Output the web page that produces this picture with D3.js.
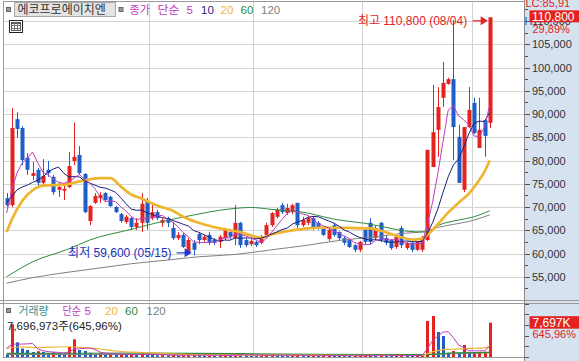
<!DOCTYPE html>
<html><head><meta charset="utf-8">
<script src="https://cdnjs.cloudflare.com/ajax/libs/d3/7.8.5/d3.min.js"></script>
<style>body{margin:0;background:#fff;overflow:hidden}svg{display:block}</style>
</head><body>
<svg id="c" width="579" height="361"></svg>
<script>
// ---------------- DATA ----------------
const stockName = "에코프로에이치엔";
const opens = [71900,70400,88900,87000,80600,76700,78000,75200,78000,76500,
73700,73500,74300,79900,81200,77100,67000,70900,71900,73000,
72200,70000,68500,66800,67600,65700,66600,71300,67600,68900,
66600,67600,65500,63300,64000,60300,62300,64200,62900,64000,
62900,62500,63300,64600,63300,66600,62900,62000,62500,62300,
64000,66100,67900,70400,68700,68900,70900,66100,66600,67600,
66600,65300,63100,66100,64600,63300,62900,61800,60800,65100,
66600,63300,66600,63300,62900,61400,65500,61200,62300,60800,
60800,62900,78600,86600,93500,96500,97500,85100,73700,87200,
92400,82700,88700,88100];
const highs = [73000,91300,90400,87400,81600,79700,78400,80300,79900,76900,
75400,74700,81800,88100,83100,77300,70400,73000,73200,73200,
72400,70200,68700,68300,67900,67600,73000,71900,70900,69400,
67600,67900,66800,64600,64400,63300,62900,64600,64000,64600,
63300,64000,65500,65300,70400,66800,63300,63100,62700,64000,
66600,68900,69800,70900,70700,70700,70900,67900,68300,68100,
67000,65700,65500,66600,64800,63800,63100,62000,62700,65500,
67600,65900,66800,63800,63100,64000,65900,62500,62500,62700,
63800,82300,96300,95800,101200,97800,110200,87700,87200,95800,
93500,93500,88900,110800];
const lows = [70000,70000,84900,79000,76900,75800,74300,74300,76500,72600,
72200,71500,74100,79000,76900,68700,66100,70700,70900,71300,
70000,68700,66600,66400,65100,65100,64600,65100,67200,67200,
65700,65700,62900,62900,61200,60100,59600,62000,62500,61800,
61800,61200,62900,63100,61800,61200,61400,61600,61400,62000,
63600,65700,67600,68500,68300,68500,65500,65700,66100,65100,
65100,63800,62700,63600,62900,61800,61200,60300,60300,62000,
62000,62900,62500,61800,60800,61000,61200,60800,60300,60500,
60300,62700,78600,80800,91500,96300,80100,75200,73200,87000,
85700,82700,80800,87000];
const closes = [70400,87000,86800,80100,78000,77300,75200,76700,77300,73200,
74300,73900,78800,80800,77300,68900,70200,72400,72600,71500,
70200,68900,67000,67900,65700,66600,70700,66600,68900,67600,
67200,66600,63300,64000,61400,62900,60800,62900,63600,62300,
62300,63600,65100,63600,66600,61800,61800,62700,61800,63600,
66100,68700,69400,68900,69800,70400,66100,67200,67600,65500,
65500,64000,65100,64000,63300,62300,61400,60800,62500,62500,
62500,65500,62900,62300,61200,63600,61800,62300,60800,62500,
63300,82300,86100,91500,96700,97500,87200,75200,87200,90900,
85900,86600,85300,110800];
const volumes = [600000,7340000,3300000,1900000,1570000,1100000,1300000,1150000,900000,1050000,
800000,650000,2240000,3970000,1570000,1350000,950000,700000,850000,650000,
700000,550000,600000,450000,550000,450000,900000,650000,450000,380000,
420000,350000,450000,350000,400000,450000,500000,400000,350000,380000,
300000,320000,400000,330000,700000,550000,400000,350000,300000,350000,
420000,480000,430000,380000,330000,360000,500000,380000,330000,350000,
300000,320000,350000,300000,280000,300000,270000,290000,320000,380000,
450000,380000,400000,330000,300000,340000,400000,330000,300000,320000,
350000,8080000,9200000,5600000,4700000,900000,1350000,900000,2700000,1000000,
1080000,1130000,1191600,7696973];
// first days of the moving averages (window starts before the visible range)
const ma5Head  = [68700,73700,77300,79500];
const ma10Head = [71000,72200,73700,74300,74700,75300,75800,76500,77500];
const volMa5Head = [1950000,2850000,2900000,2900000];
// longer moving averages: [day index, value]
const ma20Pts = [[0,64600],[1,67300],[3,71300],[5,73600],[7,74600],[11,74800],[14,75500],[18,76200],[20,76200],[22,74400],[24,72700],[26,71800],[29,70300],[32,69200],[34,67900],[37,66600],[41,65400],[45,64600],[49,63400],[51,64100],[54,64800],[58,65400],[61,65600],[66,65500],[70,65400],[72,64900],[74,64200],[76,63500],[78,63000],[80,63200],[81,64000],[83,66300],[85,68800],[87,70900],[89,72900],[91,75800],[92,77600],[93,80000]];
const ma60Pts = [[0,55000],[5,58200],[12,61000],[16,62900],[24,65200],[30,66900],[37,68500],[41,69300],[45,69800],[47,69900],[51,69500],[58,68700],[61,67900],[64,67200],[69,66500],[74,65400],[77,64800],[81,64600],[83,66000],[87,67200],[90,67900],[93,69200]];
const ma120Pts = [[0,53600],[5,54800],[12,56000],[18,56900],[24,57800],[31,58600],[37,59300],[44,59800],[51,60800],[58,61800],[64,62800],[71,63600],[76,64300],[80,64700],[83,65600],[90,67200],[93,68300]];
const volMa20Pts = [[0,1950000],[3,2300000],[5,2100000],[12,2300000],[15,2100000],[18,1800000],[21,1350000],[26,1000000],[32,700000],[40,460000],[50,420000],[60,410000],[70,370000],[80,340000],[81,725000],[82,1170000],[83,1430000],[84,1650000],[86,1735000],[88,1885000],[90,1960000],[92,2040000],[93,2400000]];
const volMa60Pts = [[0,800000],[25,850000],[45,750000],[60,600000],[81,520000],[82,650000],[85,850000],[93,1040000]];
const volMa120Pts = [[0,560000],[40,560000],[81,560000],[85,700000],[93,950000]];
const monthStartIdx = [28,48,69,90];
const priceTicks = [55000,60000,65000,70000,75000,80000,85000,90000,95000,100000,105000,110000];
const volTicks = [0,2400000,4800000,7200000,9600000,12000000];
const highText = "최고 110,800 (08/04)";
const lowText = "최저 59,600 (05/15)";
const lastChangeText = "29,89%";
const volText = "7,696,973주(645,96%)";
const volBoxText = "7,697K";
const volRatioText = "645,96%";
const prevText = "LC:85,91";

// ---------------- LAYOUT ----------------
const W=579,H=361, L=4, R=524.5, PT=2, PB=300, VT=303.5, VB=357;
const RED="#e2231f", BLUE="#1f5ec8", MAG="#c03cc0", NAVY="#1b1f7a", GOLD="#efb430", GREEN="#2e8b3c", GRAY="#808080";
const NUM='"Liberation Sans", Arial, sans-serif', KR='"Noto Sans CJK KR", sans-serif';
const n = closes.length;
const svg = d3.select("#c");
const x = d3.scaleLinear().domain([0,n-1]).range([6.6,489.7]);
const y = d3.scaleLinear().domain([50000,114100]).range([PB,PT]);
const yv = d3.scaleLinear().domain([0,12000000]).range([VB,VT]);
const px = v=>Math.round(v)+0.5;

svg.append("rect").attr("width",W).attr("height",H).attr("fill","#fff");
svg.append("rect").attr("x",525).attr("y",0).attr("width",W-525).attr("height",H).attr("fill","#d6e2f0");

// grid
svg.append("g").selectAll("line").data(priceTicks).join("line")
  .attr("x1",L).attr("x2",R).attr("y1",d=>px(y(d))).attr("y2",d=>px(y(d)))
  .attr("stroke","#d3d3d3");
svg.append("g").selectAll("line").data(monthStartIdx).join("line")
  .attr("x1",d=>px((x(d-1)+x(d))/2)).attr("x2",d=>px((x(d-1)+x(d))/2))
  .attr("y1",PT).attr("y2",VB).attr("stroke","#d3d3d3");

// frame
const fr = svg.append("g").attr("stroke","#9a9a9a").attr("fill","none");
fr.append("line").attr("x1",3.5).attr("x2",3.5).attr("y1",1).attr("y2",358);
fr.append("line").attr("x1",3.5).attr("x2",R).attr("y1",1.5).attr("y2",1.5);
fr.append("line").attr("x1",0).attr("x2",W).attr("y1",300.5).attr("y2",300.5);
fr.append("line").attr("x1",0).attr("x2",W).attr("y1",303.5).attr("y2",303.5);
fr.append("line").attr("x1",3.5).attr("x2",R).attr("y1",357.5).attr("y2",357.5);
fr.append("line").attr("x1",R).attr("x2",R).attr("y1",0).attr("y2",H).attr("stroke","#8a8a8a");

// clip
const defs = svg.append("defs");
defs.append("clipPath").attr("id","pc").append("rect").attr("x",L).attr("y",PT).attr("width",R-L).attr("height",PB-PT);
defs.append("clipPath").attr("id","vc").append("rect").attr("x",L).attr("y",VT).attr("width",R-L).attr("height",VB-VT);

// candles
const idx = d3.range(n);
const cg = svg.append("g").attr("clip-path","url(#pc)");
const col = i => closes[i]>=opens[i]?RED:BLUE;
cg.selectAll("line").data(idx).join("line")
  .attr("x1",i=>px(x(i))).attr("x2",i=>px(x(i)))
  .attr("y1",i=>y(highs[i])).attr("y2",i=>y(lows[i]))
  .attr("stroke",col);
cg.selectAll("rect").data(idx).join("rect")
  .attr("x",i=>Math.round(x(i))-1.5).attr("width",4)
  .attr("y",i=>y(Math.max(opens[i],closes[i])))
  .attr("height",i=>Math.max(1,Math.abs(y(opens[i])-y(closes[i]))))
  .attr("fill",col);

// moving averages
const mean = a=>d3.mean(a);
const ma5 = idx.map(i=> i>=4 ? mean(closes.slice(i-4,i+1)) : ma5Head[i]);
const ma10 = idx.map(i=> i>=9 ? mean(closes.slice(i-9,i+1)) : ma10Head[i]);
const lineP = d3.line().x(d=>x(d[0])).y(d=>y(d[1]));
const lineS = d3.line().x(d=>x(d[0])).y(d=>y(d[1])).curve(d3.curveMonotoneX);
const mg = svg.append("g").attr("clip-path","url(#pc)").attr("fill","none");
mg.append("path").attr("d",lineS(ma120Pts)).attr("stroke",GRAY).attr("stroke-width",1);
mg.append("path").attr("d",lineS(ma60Pts)).attr("stroke",GREEN).attr("stroke-width",1);
mg.append("path").attr("d",lineS(ma20Pts)).attr("stroke",GOLD).attr("stroke-width",2.7);
mg.append("path").attr("d",lineP(ma10.map((v,i)=>[i,v]))).attr("stroke",NAVY).attr("stroke-width",1);
mg.append("path").attr("d",lineP(ma5.map((v,i)=>[i,v]))).attr("stroke",MAG).attr("stroke-width",1);

// volume bars
const vg = svg.append("g").attr("clip-path","url(#vc)");
const vcol = i => (i>0 && volumes[i]>volumes[i-1]) ? RED : BLUE;
vg.selectAll("rect").data(idx).join("rect")
  .attr("x",i=>Math.round(x(i))-1).attr("width",3)
  .attr("y",i=>yv(volumes[i])).attr("height",i=>Math.max(1,VB-yv(volumes[i])))
  .attr("fill",vcol);
const volMa5 = idx.map(i=> i>=4 ? mean(volumes.slice(i-4,i+1)) : volMa5Head[i]);
const lineV = d3.line().x(d=>x(d[0])).y(d=>yv(d[1]));
const lineVS = d3.line().x(d=>x(d[0])).y(d=>yv(d[1])).curve(d3.curveMonotoneX);
const vm = svg.append("g").attr("clip-path","url(#vc)").attr("fill","none");
vm.append("path").attr("d",lineVS(volMa120Pts)).attr("stroke",GRAY);
vm.append("path").attr("d",lineVS(volMa60Pts)).attr("stroke",GREEN).attr("stroke-width",1.2);
vm.append("path").attr("d",lineVS(volMa20Pts)).attr("stroke",GOLD).attr("stroke-width",1.2);
vm.append("path").attr("d",lineV(volMa5.map((v,i)=>[i,v]))).attr("stroke",MAG);

// right price axis
const ag = svg.append("g");
const minor = priceTicks.map(t=>t-2500).concat([priceTicks[priceTicks.length-1]+2500]);
ag.selectAll("line.mn").data(minor).join("line").attr("class","mn")
  .attr("x1",525).attr("x2",528).attr("y1",d=>px(y(d))).attr("y2",d=>px(y(d))).attr("stroke","#555");
ag.selectAll("line.mj").data(priceTicks).join("line").attr("class","mj")
  .attr("x1",525).attr("x2",530).attr("y1",d=>px(y(d))).attr("y2",d=>px(y(d))).attr("stroke","#555");
ag.selectAll("text").data(priceTicks).join("text")
  .attr("x",532).attr("y",d=>y(d)+4).attr("font-family",NUM).attr("font-size",11).attr("fill","#333")
  .text(d=>d3.format(",")(d));
ag.selectAll("line.vt").data(volTicks).join("line").attr("class","vt")
  .attr("x1",525).attr("x2",529).attr("y1",d=>px(yv(d))).attr("y2",d=>px(yv(d))).attr("stroke","#555");

// last price box
svg.append("text").attr("x",525.5).attr("y",7).attr("font-family",NUM).attr("font-size",11).attr("fill",RED).text(prevText);
svg.append("text").attr("x",524.5).attr("y",25).attr("font-family",NUM).attr("font-size",11).attr("fill","#2a50c8").text("H");
const lastY = y(closes[n-1]);
svg.append("rect").attr("x",529.5).attr("y",lastY-7).attr("width",W-529.5).attr("height",12).attr("fill",RED);
svg.append("text").attr("x",532).attr("y",lastY+3.5).attr("font-family",NUM).attr("font-size",12).attr("fill","#fff").text(d3.format(",")(closes[n-1]));
svg.append("text").attr("x",532.5).attr("y",lastY+16).attr("font-family",NUM).attr("font-size",11).attr("fill",RED).text(lastChangeText);

// last volume box
const lvY = yv(volumes[n-1]);
svg.append("rect").attr("x",529.5).attr("y",lvY-6.5).attr("width",W-529.5).attr("height",12.5).attr("fill",RED);
svg.append("text").attr("x",532.5).attr("y",lvY+4).attr("font-family",NUM).attr("font-size",12).attr("fill","#fff").text(volBoxText);
svg.append("text").attr("x",532.5).attr("y",lvY+15.5).attr("font-family",NUM).attr("font-size",11).attr("fill",RED).text(volRatioText);

// annotations
const iMax = d3.maxIndex(highs), iMin = d3.minIndex(lows);
function arrow(xt, yy, color){
  const g = svg.append("g");
  g.append("line").attr("x1",xt-15).attr("x2",xt-5).attr("y1",yy).attr("y2",yy).attr("stroke",color).attr("stroke-width",1.2);
  g.append("path").attr("d",`M${xt},${yy}L${xt-7},${yy-4.5}L${xt-7},${yy+4.5}Z`).attr("fill",color);
}
const hy = y(highs[iMax])+3.5;
svg.append("text").attr("x",x(iMax)-22.5).attr("y",hy+4.5).attr("text-anchor","end")
  .attr("font-family",NUM+',"Noto Sans CJK KR"').attr("font-size",12).attr("fill",RED).text(highText);
arrow(x(iMax)-2, hy, RED);
const ly = y(lows[iMin])-2.5;
svg.append("text").attr("x",x(iMin)-22).attr("y",ly+4.5).attr("text-anchor","end")
  .attr("font-family",NUM+',"Noto Sans CJK KR"').attr("font-size",12).attr("fill","#2230b8").text(lowText);
arrow(x(iMin)-2, ly, "#1f3ad0");

// price legend
function marker(xx,yy){svg.append("rect").attr("x",xx+0.5).attr("y",yy+0.5).attr("width",4).attr("height",4).attr("fill","#9a9a9a").attr("stroke","#666");}
marker(6,7);
svg.append("rect").attr("x",14.5).attr("y",2.5).attr("width",101).attr("height",14).attr("fill","#e3e3e3").attr("stroke","#a8a8a8");
svg.append("text").attr("x",17.5).attr("y",14).attr("font-family",KR).attr("font-size",12).attr("fill","#333").text(stockName);
marker(118.5,7);
// [text, x, colour, font, width]
const leg = [["종가",129.5,MAG,KR,20.5],["단순",157.5,MAG,KR,22],["5",186.5,MAG,NUM,0],["10",201,NAVY,NUM,0],["20",220.5,GOLD,NUM,0],["60",240.5,GREEN,NUM,0],["120",261,GRAY,NUM,0]];
svg.append("g").selectAll("text").data(leg).join("text")
  .attr("x",d=>d[1]).attr("y",14).attr("fill",d=>d[2]).attr("font-family",d=>d[3]).attr("font-size",11.5)
  .each(function(d){ if(d[4]) d3.select(this).attr("textLength",d[4]).attr("lengthAdjust","spacingAndGlyphs"); })
  .text(d=>d[0]);
// table icon
const ic = svg.append("g").attr("fill","none");
ic.append("rect").attr("x",9.5).attr("y",20.5).attr("width",13).attr("height",12).attr("stroke","#222").attr("fill","#fff");
ic.append("rect").attr("x",11.5).attr("y",22.5).attr("width",9).attr("height",8).attr("stroke","#555");
ic.append("line").attr("x1",11.5).attr("x2",20.5).attr("y1",23.5).attr("y2",23.5).attr("stroke","#555");
[14.5,17.5].forEach(v=>ic.append("line").attr("x1",v).attr("x2",v).attr("y1",22.5).attr("y2",30.5).attr("stroke","#777"));
[25.5,28.5].forEach(v=>ic.append("line").attr("x1",11.5).attr("x2",20.5).attr("y1",v).attr("y2",v).attr("stroke","#777"));

// volume legend
marker(6,308);
const vleg = [["거래량",18.5,"#3a8c8c",KR,30],["단순",62.5,MAG,KR,18.5],["5",84.5,MAG,NUM,0],["20",105,GOLD,NUM,0],["60",125,GREEN,NUM,0],["120",146.5,GRAY,NUM,0]];
svg.append("g").selectAll("text").data(vleg).join("text")
  .attr("x",d=>d[1]).attr("y",315).attr("fill",d=>d[2]).attr("font-family",d=>d[3]).attr("font-size",11.5)
  .each(function(d){ if(d[4]) d3.select(this).attr("textLength",d[4]).attr("lengthAdjust","spacingAndGlyphs"); })
  .text(d=>d[0]);
svg.append("text").attr("x",7).attr("y",329.5).attr("font-family",NUM+',"Noto Sans CJK KR"').attr("font-size",11.5).attr("fill","#222").text(volText);
</script>
</body></html>
